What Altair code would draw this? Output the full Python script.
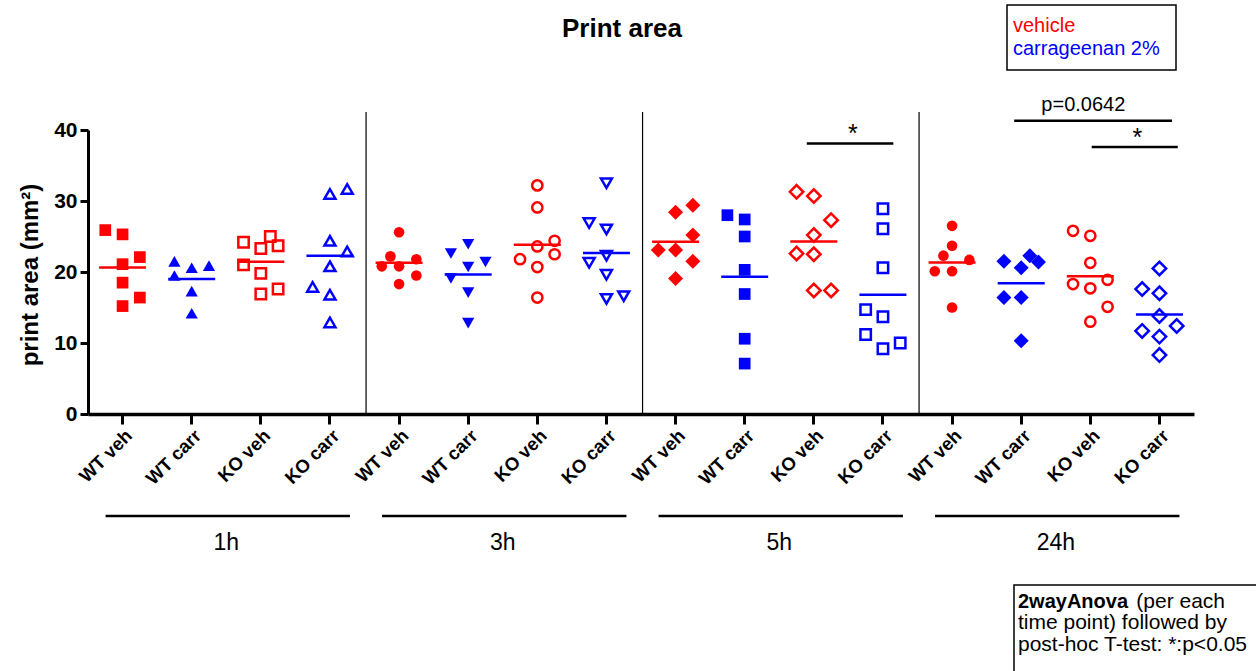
import altair as alt
import pandas as pd

FONT = "Liberation Sans"

groups = ["WT veh", "WT carr", "KO veh", "KO carr"]
times = ["1h", "3h", "5h", "24h"]
treatments = ["vehicle", "carrageenan 2%"]
treat_colors = ["#ff0000", "#0000ff"]

# print area (mm²) per animal; lanes give the column each point sits in (quarter-band steps)
area = {
    ("WT veh", "1h"): [25.9, 25.3, 22.1, 21.1, 18.5, 16.4, 15.2],
    ("WT carr", "1h"): [21.5, 20.6, 20.9, 19.5, 17.3, 14.2],
    ("KO veh", "1h"): [24.2, 23.3, 25.0, 23.7, 21.0, 19.8, 16.9, 17.6],
    ("KO carr", "1h"): [31.0, 31.7, 24.4, 22.9, 20.8, 17.9, 16.8, 12.9],
    ("WT veh", "3h"): [25.6, 22.2, 21.8, 20.8, 20.8, 19.5, 18.3],
    ("WT carr", "3h"): [23.9, 22.6, 21.4, 20.7, 19.1, 17.1, 12.8],
    ("KO veh", "3h"): [32.2, 29.1, 24.4, 23.6, 22.5, 21.8, 20.7, 16.4],
    ("KO carr", "3h"): [32.5, 26.9, 26.0, 22.3, 21.3, 19.6, 16.2, 16.6],
    ("WT veh", "5h"): [29.4, 28.4, 25.2, 23.1, 23.1, 21.5, 19.1],
    ("WT carr", "5h"): [28.0, 27.4, 25.0, 20.3, 16.9, 10.6, 7.1],
    ("KO veh", "5h"): [31.3, 30.7, 27.3, 25.2, 22.6, 22.5, 17.4, 17.4],
    ("KO carr", "5h"): [28.9, 26.1, 20.6, 14.7, 13.7, 11.2, 9.2, 10.0],
    ("WT veh", "24h"): [26.5, 23.7, 22.3, 21.7, 20.1, 20.1, 15.0],
    ("WT carr", "24h"): [21.5, 22.3, 21.4, 20.6, 16.4, 16.4, 10.3],
    ("KO veh", "24h"): [25.8, 25.1, 21.3, 18.9, 18.3, 17.7, 15.1, 13.0],
    ("KO carr", "24h"): [20.5, 17.6, 17.0, 13.8, 12.4, 11.7, 10.9, 8.3],
}
lanes = {
    ("WT veh", "1h"): [-1, 0, 1, 0, 0, 1, 0],
    ("WT carr", "1h"): [-1, 0, 1, -1, 0, 0],
    ("KO veh", "1h"): [-1, 0, 0.55, 1, -1, 0, 0, 1],
    ("KO carr", "1h"): [0, 1, 0, 1, 0, -1, 0, 0],
    ("WT veh", "3h"): [0, -0.5, 1, -1, 0, 1, 0],
    ("WT carr", "3h"): [0, -1, 1, 0, -1, 0, 0],
    ("KO veh", "3h"): [0, 0, 1, 0, 1, -1, 0, 0],
    ("KO carr", "3h"): [0, -1, 0, 0, -1, 0, 0, 1],
    ("WT veh", "5h"): [1, 0, 1, -1, 0, 1, 0],
    ("WT carr", "5h"): [-1, 0, 0, 0, 0, 0, 0],
    ("KO veh", "5h"): [-1, 0, 1, 0, -1, 0, 0, 1],
    ("KO carr", "5h"): [0, 0, 0, -1, 0, -1, 0, 1],
    ("WT veh", "24h"): [0, 0, -0.5, 1, -1, 0, 0],
    ("WT carr", "24h"): [-1, 0.5, 1, 0, -1, 0, 0],
    ("KO veh", "24h"): [-1, 0, 0, 1, -1, 0, 1, 0],
    ("KO carr", "24h"): [0, -1, 0, 0, 1, -1, 0, 0],
}

# symbol used for each group at each time point
symbols = {
    "1h": ["square", "triangle-up", "square", "triangle-up"],
    "3h": ["circle", "triangle-down", "circle", "triangle-down"],
    "5h": ["diamond", "square", "diamond", "square"],
    "24h": ["circle", "diamond", "circle", "diamond"],
}

# significance annotations: (left group, right group, time, bar level, text)
sig_left = ["KO veh", "WT carr", "KO veh"]
sig_right = ["KO carr", "KO carr", "KO carr"]
sig_time = ["5h", "24h", "24h"]
sig_level = [38.1, 41.3, 37.6]
sig_text = ["*", "p=0.0642", "*"]

note_lines = ["time point) followed by", "post-hoc T-test: *:p<0.05"]


def key(g, t):
    return f"{g} · {t}"


order = [key(g, t) for t in times for g in groups]

rows = []
for t in times:
    for gi, g in enumerate(groups):
        is_open = g.startswith("KO")
        marker = symbols[t][gi] + ("-open" if is_open else "-filled")
        for v, ln in zip(area[(g, t)], lanes[(g, t)]):
            rows.append({
                "key": key(g, t),
                "group": g,
                "time": t,
                "treatment": treatments[0] if g.endswith("veh") else treatments[1],
                "style": "open" if is_open else "filled",
                "marker": marker,
                "area": v,
                "lane": ln,
            })
df = pd.DataFrame(rows)

W, H = 1106, 284
BW = W / len(order)

shape_names = ["square", "circle", "diamond", "triangle-up", "triangle-down"]
filled_sizes = [137, 113, 225, 150, 150]
open_sizes = [108, 105, 180, 120, 120]
marker_domain = [s + "-filled" for s in shape_names] + [s + "-open" for s in shape_names]
marker_shapes = shape_names + shape_names
marker_sizes = filled_sizes + open_sizes

x_scale = alt.Scale(type="band", domain=order, paddingInner=0, paddingOuter=0)
x_axis = alt.Axis(
    title="", labelExpr="split(datum.label, ' · ')[0]", labelAngle=-45,
    labelFont=FONT, labelFontSize=18.5, labelFontWeight="bold", labelColor="black",
    labelPadding=2, domainColor="black", domainWidth=3.5, tickColor="black",
    tickWidth=3, tickSize=10, grid=False,
)
y_scale = alt.Scale(domain=[0, 40], nice=False, zero=True)
y_axis = alt.Axis(
    title="", values=[0, 10, 20, 30, 40], labelFont=FONT, labelFontSize=21,
    labelFontWeight="bold", labelColor="black", labelPadding=3,
    domainColor="black", domainWidth=3, tickColor="black", tickWidth=3,
    tickSize=8, grid=False,
)


def X(field="key"):
    return alt.X(f"{field}:N", scale=x_scale, axis=x_axis)


Y = alt.Y("area:Q", scale=y_scale, axis=y_axis)
color = alt.Color("treatment:N", scale=alt.Scale(domain=treatments, range=treat_colors), legend=None)
shape = alt.Shape("marker:N", scale=alt.Scale(domain=marker_domain, range=marker_shapes), legend=None)
size = alt.Size(
    "marker:N",
    scale=alt.Scale(type="ordinal", domain=marker_domain, range=marker_sizes),
    legend=None,
)
x_off = alt.XOffset("lane:Q", scale=alt.Scale(domain=[-2, 2], range=[0, BW]))

base = alt.Chart(df)

filled_pts = base.transform_filter(alt.datum.style == "filled").mark_point(
    filled=True, opacity=1, strokeWidth=0
).encode(x=X(), xOffset=x_off, y=Y, color=color, shape=shape, size=size)

open_pts = base.transform_filter(alt.datum.style == "open").mark_point(
    filled=False, opacity=1, strokeWidth=2.5
).encode(x=X(), xOffset=x_off, y=Y, color=color, shape=shape, size=size)

means = base.mark_tick(size=47, thickness=2.5, opacity=1).encode(
    x=X(), y=alt.Y("mean(area):Q", scale=y_scale, axis=y_axis), color=color
)

# thin dividers between time points
sep_df = pd.DataFrame({"key": [key(groups[0], t) for t in times[1:]]})
separators = alt.Chart(sep_df).mark_rule(color="black", strokeWidth=1.2, xOffset=-33).encode(
    x=X(), y=alt.value(-18), y2=alt.value(H)
)

# time point brackets under the axis
grp_df = pd.DataFrame({
    "key": [key(groups[0], t) for t in times],
    "key_end": [key(groups[-1], t) for t in times],
    "mid": [key(groups[2], t) for t in times],
    "time": times,
})
grp_lines = alt.Chart(grp_df).mark_rule(color="black", strokeWidth=2.5, xOffset=-17, x2Offset=20).encode(
    x=X(), x2="key_end:N", y=alt.value(386)
)
grp_text = alt.Chart(grp_df).mark_text(
    font=FONT, fontSize=23, color="black", dx=-34.5, baseline="middle", align="center"
).encode(x=X("mid"), y=alt.value(413), text="time:N")

# significance bars and their labels
sig_layers = []
bar_offsets = [(-7, 10.4), (-7, 12.6), (1.4, 18.3)]
text_dx = [39, -7, 47]
text_dy = [-1, -10, -1]
text_size = [25, 20, 25]
for i in range(len(sig_text)):
    d = pd.DataFrame({
        "key": [key(sig_left[i], sig_time[i])],
        "key_end": [key(sig_right[i], sig_time[i])],
        "mid": [key("KO veh", sig_time[i])],
        "area": [sig_level[i]],
        "label": [sig_text[i]],
    })
    xo, x2o = bar_offsets[i]
    sig_layers.append(
        alt.Chart(d).mark_rule(color="black", strokeWidth=2.5, xOffset=xo, x2Offset=x2o).encode(
            x=X(), x2="key_end:N", y=Y
        )
    )
    sig_layers.append(
        alt.Chart(d).mark_text(
            font=FONT, fontSize=text_size[i], color="black", align="center",
            baseline="alphabetic", dx=text_dx[i], dy=text_dy[i]
        ).encode(x=X("mid"), y=Y, text="label:N")
    )

one = pd.DataFrame({"k": [0]})

title = alt.Chart(one).mark_text(
    text="Print area", font=FONT, fontSize=26, fontWeight="bold", color="black",
    align="center", baseline="middle"
).encode(x=alt.value(534), y=alt.value(-101))

y_title = alt.Chart(one).mark_text(
    text="print area (mm²)", font=FONT, fontSize=24, fontWeight="bold", color="black",
    align="center", baseline="middle", angle=270
).encode(x=alt.value(-57), y=alt.value(145))

# treatment key in the top right
key_box = alt.Chart(one).mark_rect(fill="white", stroke="black", strokeWidth=1.5).encode(
    x=alt.value(919), x2=alt.value(1088), y=alt.value(-125), y2=alt.value(-60)
)
key_df = pd.DataFrame({"treatment": treatments})
key_layers = []
for i, tr in enumerate(treatments):
    key_layers.append(
        alt.Chart(key_df).transform_filter(alt.datum.treatment == tr).mark_text(
            font=FONT, fontSize=20, align="left", baseline="alphabetic"
        ).encode(x=alt.value(925), y=alt.value(-98 + 23 * i), text="treatment:N", color=color)
    )

# statistics note in the bottom right
note_box = alt.Chart(one).mark_rect(fill="white", stroke="black", strokeWidth=1.5).encode(
    x=alt.value(926), x2=alt.value(1190), y=alt.value(455), y2=alt.value(560)
)
note_bold = alt.Chart(one).mark_text(
    text="2wayAnova", font=FONT, fontSize=20, fontWeight="bold", color="black",
    align="left", baseline="alphabetic"
).encode(x=alt.value(930), y=alt.value(478))
note_rest = alt.Chart(one).mark_text(
    text="(per each", font=FONT, fontSize=21, color="black", align="right", baseline="alphabetic"
).encode(x=alt.value(1137), y=alt.value(478))
note_layers = []
for i, line in enumerate(note_lines):
    note_layers.append(
        alt.Chart(one).mark_text(
            text=line, font=FONT, fontSize=21, color="black", align="left", baseline="alphabetic"
        ).encode(x=alt.value(930), y=alt.value(499 + 22 * i))
    )

chart = alt.layer(
    separators, grp_lines, grp_text, filled_pts, open_pts, means, *sig_layers,
    title, y_title, key_box, *key_layers, note_box, note_bold, note_rest, *note_layers,
).properties(
    width=W, height=H,
    autosize=alt.AutoSizeParams(type="none"),
    padding={"left": 88, "top": 130, "right": 62, "bottom": 257},
    background="white",
).configure_view(strokeWidth=0)

chart.save("out.html", embed_options={"renderer": "svg", "actions": False})
